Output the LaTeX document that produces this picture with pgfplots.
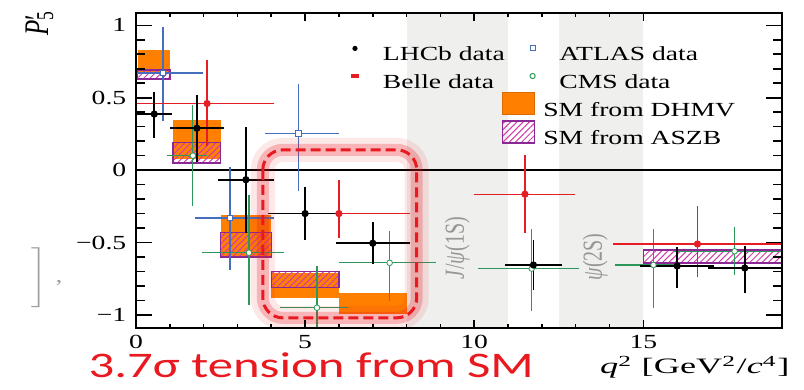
\documentclass[border=0pt]{standalone}
\usepackage{pgfplots}
\pgfplotsset{compat=1.18}
\usepackage{pgfplotstable}
\usepackage{graphicx}
\usepackage{fontspec}
\setmainfont{Liberation Serif}
\newfontfamily\calibri{Carlito}
\usetikzlibrary{patterns.meta}

\definecolor{belle}{RGB}{228,30,36}
\definecolor{atlas}{RGB}{70,110,190}
\definecolor{cms}{RGB}{45,150,90}
\definecolor{dhmv}{RGB}{255,127,0}
\definecolor{aszbline}{RGB}{140,40,150}
\definecolor{aszbhatch}{RGB}{210,60,170}
\definecolor{vetoband}{RGB}{239,239,237}
\definecolor{sigmared}{RGB}{232,26,32}
\definecolor{resonance}{RGB}{150,150,150}

% measurements: centre, value, lower/upper x extent, lower/upper uncertainty
\pgfplotstableread{
x     y      exm  exp  eym   eyp
0.54  0.387  0.44 0.44 0.146 0.130
1.80  0.289  0.70 0.70 0.21  0.21
3.25  -0.066 0.75 0.75 0.35  0.34
5.00  -0.300 1.00 1.00 0.16  0.16
7.00  -0.505 1.00 1.00 0.125 0.125
11.75 -0.655 0.75 0.75 0.155 0.155
16.00 -0.662 1.00 1.00 0.13  0.11
18.00 -0.676 1.00 1.00 0.15  0.13
}\lhcbdata

\pgfplotstableread{
x     y      exm  exp  eym   eyp
2.10  0.46   2.00 1.90 0.27  0.28
6.00  -0.30  2.00 2.00 0.15  0.21
11.50 -0.166 1.41 1.40 0.245 0.25
16.60 -0.51  2.42 2.40 0.21  0.24
}\belledata

\pgfplotstableread{
x     y      exm  exp  eym   eyp
0.80  0.67   0.76 1.10 0.31  0.30
2.78  -0.33  0.95 1.22 0.34  0.33
4.80  0.255  0.90 1.10 0.38  0.32
}\atlasdata

\pgfplotstableread{
x     y      exm  exp  eym   eyp
1.68  0.10   0.68 0.32 0.33  0.33
3.34  -0.57  1.30 0.96 0.34  0.38
5.35  -0.95  1.00 0.83 0.25  0.27
7.50  -0.64  1.40 1.28 0.24  0.20
11.70 -0.68  1.50 1.30 0.27  0.25
15.30 -0.655 1.04 0.70 0.275 0.225
17.70 -0.56  1.70 1.30 0.14  0.15
}\cmsdata

\pgfplotsset{
  measurement/.style={only marks, forget plot,
    /pgfplots/error bars/x dir=both, /pgfplots/error bars/x explicit,
    /pgfplots/error bars/y dir=both, /pgfplots/error bars/y explicit,
    /pgfplots/error bars/error bar style={line width=#1},
    /pgfplots/error bars/error mark options={line width=#1, mark size=1.5pt}},
  /pgfplots/table/errtable/.style={x=x, y=y, x error minus=exm, x error plus=exp,
    y error minus=eym, y error plus=eyp},
  dhmvbox/.style={fill=dhmv, draw=none, forget plot},
  aszbbox/.style={draw=aszbline, line width=0.75pt, forget plot,
    pattern={Lines[angle=45, distance=2.2pt, line width=0.5pt]},
    pattern color=aszbhatch},
  % legend keys: small symbols in the first column, symbols or boxes in the second
  lhcbkey/.style={legend image code/.code={%
    \path[draw=none, fill=black, overlay] (-1pt,3.3pt) circle (1.3pt);
    \path[draw=none, fill=none] (-4pt,-2pt) rectangle (4pt,9pt);}},
  bellekey/.style={legend image code/.code={%
    \path[draw=none, fill=belle, overlay] (-2.8pt,2.5pt) rectangle (0.8pt,4.1pt);
    \path[draw=none, fill=none] (-4pt,-2pt) rectangle (4pt,9pt);}},
  atlaskey/.style={legend image code/.code={%
    \path[draw=atlas, fill=white, line width=0.5pt, overlay] (13.7pt,2pt) rectangle (16.3pt,4.6pt);
    \path[draw=none, fill=none] (0pt,-2pt) rectangle (16pt,9pt);}},
  cmskey/.style={legend image code/.code={%
    \path[draw=cms, fill=white, line width=0.5pt, overlay] (15pt,3.3pt) circle (1.3pt);
    \path[draw=none, fill=none] (0pt,-2pt) rectangle (16pt,9pt);}},
  dhmvkey/.style={legend image code/.code={%
    \path[fill=dhmv, draw=dhmv!85!black, line width=0.4pt] (0pt,-2pt) rectangle (16pt,9pt);}},
  aszbkey/.style={legend image code/.code={%
    \path[draw=aszbline, line width=0.75pt,
      pattern={Lines[angle=45, distance=2.2pt, line width=0.5pt]}, pattern color=aszbhatch]
      (0pt,-2pt) rectangle (16pt,9pt);}},
}

\begin{document}
\begin{tikzpicture}
\useasboundingbox (0,0) rectangle (402pt,195pt);
\begin{axis}[
  at={(68pt,31pt)}, anchor=south west,
  scale only axis, width=323pt, height=157.5pt,
  xmin=0, xmax=19.1, ymin=-1.09, ymax=1.085,
  xtick={0,5,10,15}, xticklabels={0,5,10,15},
  ytick={-1,-0.5,0,0.5,1}, yticklabels={−1,−0.5,0,0.5,1},
  minor x tick num=4, minor y tick num=4,
  tick align=inside, axis on top,
  major tick length=8pt, minor tick length=4.5pt,
  xtick style={/pgfplots/major tick length=4pt, /pgfplots/minor tick length=2pt},
  axis line style={line width=0.85pt},
  every tick/.style={black, line width=0.8pt},
  tick label style={font=\fontsize{10}{12}\selectfont, xscale=1.38},
  legend columns=2,
  legend cell align=left,
  legend style={
    at={(0.3297,0.9238)}, anchor=north west, draw=none, fill=none,
    inner sep=0pt, outer sep=0pt,
    nodes={inner sep=0pt, font=\fontsize{10}{12}\selectfont},
    row sep=0.6pt,
    /tikz/column 1/.style={column sep=9pt},
    /tikz/column 2/.style={column sep=-1.5pt},
    /tikz/column 3/.style={column sep=4pt},
  },
]

% vetoed charmonium regions
\addplot[fill=vetoband, draw=none, forget plot] coordinates {(8,-1.09) (11,-1.09) (11,1.085) (8,1.085)} -- cycle;
\addplot[fill=vetoband, draw=none, forget plot] coordinates {(12.5,-1.09) (15,-1.09) (15,1.085) (12.5,1.085)} -- cycle;
\addplot[black, line width=0.8pt, forget plot] coordinates {(0,0) (19.1,0)};

% SM predictions (DHMV)
\addplot[dhmvbox] coordinates {(0.05,0.68) (1.0,0.68) (1.0,0.83) (0.05,0.83)} -- cycle;
\addplot[dhmvbox] coordinates {(1.1,0.08) (2.5,0.08) (2.5,0.345) (1.1,0.345)} -- cycle;
\addplot[dhmvbox] coordinates {(2.5,-0.60) (4.0,-0.60) (4.0,-0.31) (2.5,-0.31)} -- cycle;
\addplot[dhmvbox] coordinates {(4.0,-0.88) (6.0,-0.88) (6.0,-0.71) (4.0,-0.71)} -- cycle;
\addplot[dhmvbox] coordinates {(6.0,-0.99) (8.0,-0.99) (8.0,-0.85) (6.0,-0.85)} -- cycle;

% SM predictions (ASZB)
\addplot[aszbbox] coordinates {(0.05,0.63) (1.0,0.63) (1.0,0.69) (0.05,0.69)} -- cycle;
\addplot[aszbbox] coordinates {(1.1,0.05) (2.5,0.05) (2.5,0.19) (1.1,0.19)} -- cycle;
\addplot[aszbbox] coordinates {(2.5,-0.60) (4.0,-0.60) (4.0,-0.43) (2.5,-0.43)} -- cycle;
\addplot[aszbbox] coordinates {(4.0,-0.81) (6.0,-0.81) (6.0,-0.70) (4.0,-0.70)} -- cycle;
\addplot[aszbbox] coordinates {(15,-0.64) (19.1,-0.64) (19.1,-0.55) (15,-0.55)} -- cycle;

% measurements
\addplot[measurement=0.6pt, cms, mark=*, mark size=1.4pt, mark options={fill=white}]
  table[errtable] {\cmsdata};
\addplot[measurement=0.6pt, atlas, mark=square*, mark size=1.4pt, mark options={fill=white}]
  table[errtable] {\atlasdata};
\addplot[measurement=0.6pt, belle, mark=*, mark size=1.6pt]
  table[errtable] {\belledata};
\addplot[measurement=0.9pt, black, mark=*, mark size=1.6pt]
  table[errtable] {\lhcbdata};

% resonance labels
\node[text=resonance, inner sep=0pt, xscale=1.38, rotate=90, font=\fontsize{10}{12}\selectfont]
  at (axis cs:9.5,-0.54) {\textit{J}/\textit{ψ}(1S)};
\node[text=resonance, inner sep=0pt, xscale=1.38, rotate=90, font=\fontsize{10}{12}\selectfont]
  at (axis cs:13.58,-0.60) {\textit{ψ}(2S)};

% highlighted bins
\draw[sigmared, opacity=0.10, line width=12pt, rounded corners=10pt]
  (axis cs:3.75,0.14) rectangle (axis cs:8.3,-1.02);
\draw[sigmared, opacity=0.25, line width=6pt, rounded corners=10pt]
  (axis cs:3.75,0.14) rectangle (axis cs:8.3,-1.02);
\draw[sigmared, line width=1.5pt, dash pattern=on 5pt off 2.5pt, rounded corners=10pt]
  (axis cs:3.75,0.14) rectangle (axis cs:8.3,-1.02);

% legend
\addlegendimage{lhcbkey}
\addlegendentry{\scalebox{1.38}[1]{LHCb data}}
\addlegendimage{atlaskey}
\addlegendentry{\hspace*{8pt}\scalebox{1.38}[1]{ATLAS data}}
\addlegendimage{bellekey}
\addlegendentry{\scalebox{1.38}[1]{Belle data}}
\addlegendimage{cmskey}
\addlegendentry{\hspace*{8pt}\scalebox{1.38}[1]{CMS data}}
\addlegendimage{empty legend}
\addlegendentry{}
\addlegendimage{dhmvkey}
\addlegendentry{\scalebox{1.38}[1]{SM from DHMV}}
\addlegendimage{empty legend}
\addlegendentry{}
\addlegendimage{aszbkey}
\addlegendentry{\scalebox{1.38}[1]{SM from ASZB}}
\end{axis}

% axis titles
\node[anchor=north west, inner sep=0pt, xscale=1.38, font=\fontsize{12.5}{14}\selectfont]
  at (12.5pt,190pt) {\rotatebox{90}{\textit{P}\rlap{′}\textsubscript{5}}};
\node[anchor=base east, inner sep=0pt, xscale=1.65, font=\fontsize{11}{13}\selectfont]
  at (395pt,8pt) {\textit{q}\textsuperscript{2} [GeV\textsuperscript{2}/\textit{c}\textsuperscript{4}]};
\node[text=gray!75, inner sep=0pt, xscale=1.38] at (23.5pt,56pt) {$\Bigg]$\hspace{3pt},};

\node[anchor=base west, inner sep=0pt, xscale=1.41, text=sigmared, font=\calibri\fontsize{18}{20}\selectfont]
  at (44pt,6pt) {3.7σ tension from SM};
\end{tikzpicture}
\end{document}
